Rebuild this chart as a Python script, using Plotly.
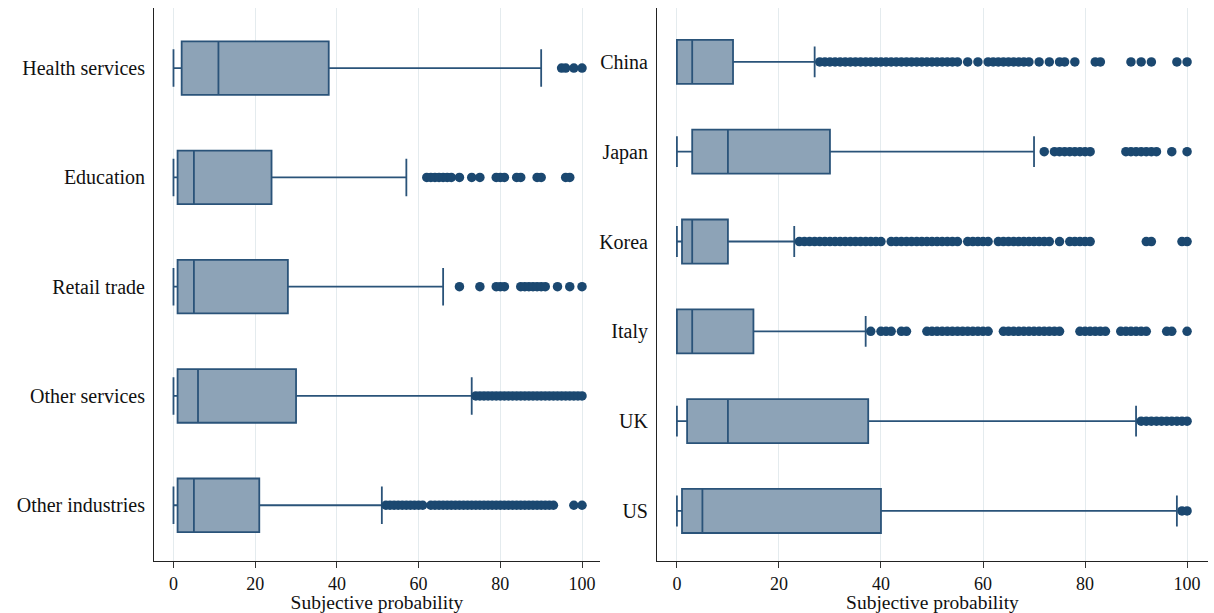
import plotly.graph_objects as go

# ---------------- data ----------------
ind_cats = ["Health services", "Education", "Retail trade", "Other services", "Other industries"]
ind_low = [0, 0, 0, 0, 0]
ind_q1 = [2, 1, 1, 1, 1]
ind_med = [11, 5, 5, 6, 5]
ind_q3 = [38, 24, 28, 30, 21]
ind_high = [90, 57, 66, 73, 51]
ind_out = [
    [95, 96, 98, 100],
    [62, 63, 64, 65, 66, 67, 68, 70, 73, 75, 79, 80, 81, 84, 85, 89, 90, 96, 97],
    [70, 75, 79, 80, 81, 85, 86, 87, 88, 89, 90, 91, 94, 97, 100],
    [74, 75, 76, 77, 78, 79, 80, 81, 82, 83, 84, 85, 86, 87, 88, 89, 90, 91, 92, 93,
     94, 95, 96, 97, 98, 99, 100],
    [52, 53, 54, 55, 56, 57, 58, 59, 60, 61, 63, 64, 65, 66, 67, 68, 69, 70, 71, 72,
     73, 74, 75, 76, 77, 78, 79, 80, 81, 82, 83, 84, 85, 86, 87, 88, 89, 90, 91, 92,
     93, 98, 100],
]

cty_cats = ["China", "Japan", "Korea", "Italy", "UK", "US"]
cty_low = [0, 0, 0, 0, 0, 0]
cty_q1 = [0, 3, 1, 0, 2, 1]
cty_med = [3, 10, 3, 3, 10, 5]
cty_q3 = [11, 30, 10, 15, 37.5, 40]
cty_high = [27, 70, 23, 37, 90, 98]
cty_out = [
    [28, 29, 30, 31, 32, 33, 34, 35, 36, 37, 38, 39, 40, 41, 42, 43, 44, 45, 46, 47,
     48, 49, 50, 51, 52, 53, 54, 55, 57, 59, 61, 62, 63, 64, 65, 66, 67, 68, 69, 71,
     73, 75, 76, 78, 82, 83, 89, 91, 93, 98, 100],
    [72, 74, 75, 76, 77, 78, 79, 80, 81, 88, 89, 90, 91, 92, 93, 94, 97, 100],
    [24, 25, 26, 27, 28, 29, 30, 31, 32, 33, 34, 35, 36, 37, 38, 39, 40, 42, 43, 44,
     45, 46, 47, 48, 49, 50, 51, 52, 53, 54, 55, 57, 58, 59, 60, 61, 63, 64, 65, 66,
     67, 68, 69, 70, 71, 72, 73, 75, 77, 78, 79, 80, 81, 92, 93, 99, 100],
    [38, 40, 41, 42, 44, 45, 49, 50, 51, 52, 53, 54, 55, 56, 57, 58, 59, 60, 61, 64,
     65, 66, 67, 68, 69, 70, 71, 72, 73, 74, 75, 79, 80, 81, 82, 83, 84, 87, 88, 89,
     90, 91, 92, 96, 97, 100],
    [91, 92, 93, 94, 95, 96, 97, 98, 99, 100],
    [99, 100],
]

x_ticks = [0, 20, 40, 60, 80, 100]
x_title = "Subjective probability"

# ---------------- style ----------------
FONT = "Palatino Linotype, Book Antiqua, Palatino, Liberation Serif, DejaVu Serif, serif"
FILL = "#8da3b7"
LINE = "#2a5379"
DOT = "#1b4870"
GRID = "#e4ebee"

W, H = 1214, 613

fig = go.Figure()


def add_panel(cats, low, q1, med, q3, high, outs, xa, ya):
    fig.add_trace(go.Box(
        y=cats, lowerfence=low, q1=q1, median=med, q3=q3, upperfence=high,
        orientation="h", fillcolor=FILL, line=dict(color=LINE, width=1.8),
        width=0.49, whiskerwidth=0.7, boxpoints=False, showlegend=False,
        xaxis=xa, yaxis=ya, hoverinfo="skip",
    ))
    for c, vals in zip(cats, outs):
        fig.add_trace(go.Scatter(
            x=vals, y=[c] * len(vals), mode="markers",
            marker=dict(color=DOT, size=9.5, line=dict(width=0)),
            showlegend=False, xaxis=xa, yaxis=ya, hoverinfo="skip",
        ))


add_panel(ind_cats, ind_low, ind_q1, ind_med, ind_q3, ind_high, ind_out, "x", "y")
add_panel(cty_cats, cty_low, cty_q1, cty_med, cty_q3, cty_high, cty_out, "x2", "y2")

xcommon = dict(
    tickvals=x_ticks, ticks="outside", ticklen=6, tickcolor="#333333", tickwidth=1,
    showgrid=True, gridcolor=GRID, gridwidth=1, zeroline=False,
    showline=True, linecolor="#222222", linewidth=1,
    tickfont=dict(family=FONT, size=18, color="#111111"),
    title=dict(text=x_title, font=dict(family=FONT, size=19.5, color="#111111"), standoff=3),
    automargin=False,
)
ycommon = dict(
    type="category", showgrid=False, zeroline=False, ticks="",
    showline=True, linecolor="#222222", linewidth=1,
    tickfont=dict(family=FONT, size=20, color="#111111"),
    automargin=False, ticklabelstandoff=4,
)

y_dom = [1 - 561 / H, 1 - 8 / H]

fig.update_layout(
    width=W, height=H,
    margin=dict(l=0, r=0, t=0, b=0),
    plot_bgcolor="white", paper_bgcolor="white",
    xaxis=dict(domain=[154 / W, 600 / W], range=[-4.77, 104.4], anchor="y", **xcommon),
    yaxis=dict(domain=y_dom, range=[4.51, -0.55], anchor="x",
               categoryorder="array", categoryarray=ind_cats, **ycommon),
    xaxis2=dict(domain=[657 / W, 1208 / W], range=[-3.9, 104.1], anchor="y2", **xcommon),
    yaxis2=dict(domain=y_dom, range=[5.557, -0.60], anchor="x2",
                categoryorder="array", categoryarray=cty_cats, **ycommon),
)

fig.write_html(
    "out.html",
    config={"displayModeBar": False},
    post_script="document.body.style.margin='0';document.body.style.padding='0';",
)
